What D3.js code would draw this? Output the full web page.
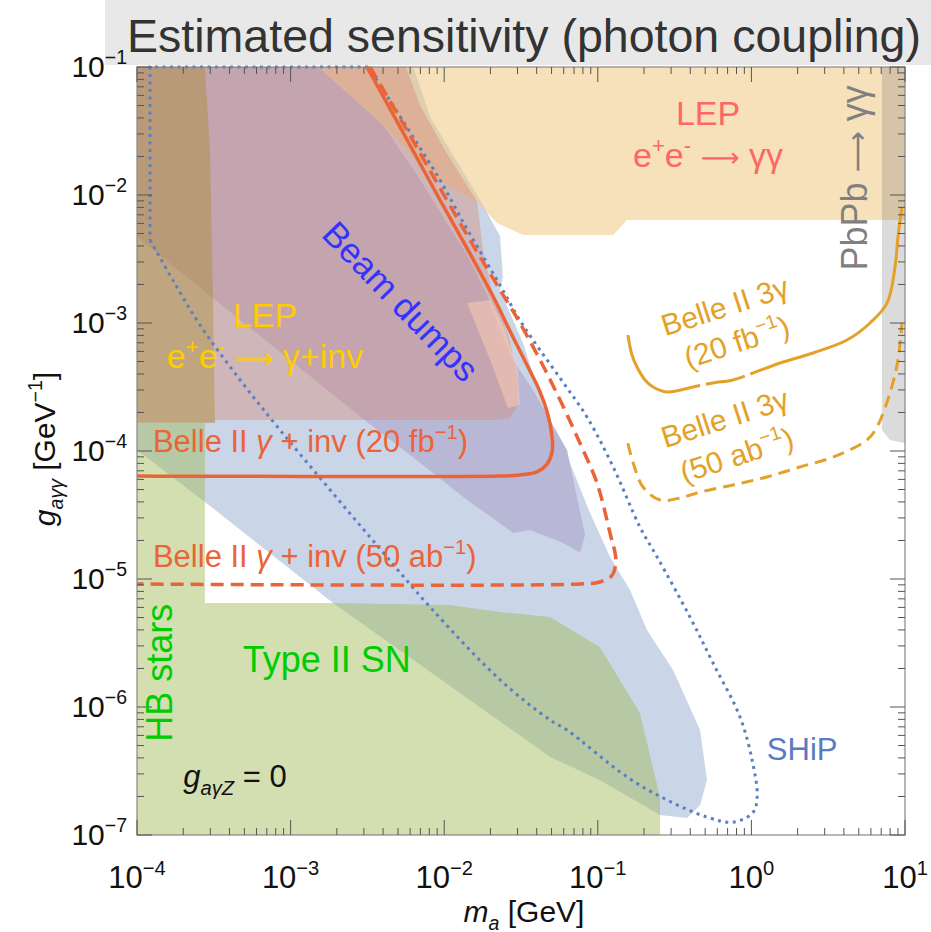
<!DOCTYPE html>
<html>
<head>
<meta charset="utf-8">
<script src="https://cdn.jsdelivr.net/npm/d3@7"></script>
<style>
  body { margin: 0; background: #fff; }
  svg { display: block; font-family: "Liberation Sans", Arial, sans-serif; }
</style>
</head>
<body>
<div id="app"></div>
<script>
'use strict';

// all points are [m_a in GeV, g_aγγ in GeV^-1]
const beamDumps = [[1e-4,0.1],[6.3e-3,0.1],[8.1e-3,4.07e-2],[1.09e-2,2.25e-2],[1.71e-2,9.14e-3],[2.31e-2,4.78e-3],
  [2.41e-2,2.29e-3],[2.31e-2,1.81e-3],[3.26e-2,6.98e-4],[4.67e-2,1.84e-4],[5.43e-2,1.22e-4],[6.59e-2,8.06e-5],
  [8.9e-2,3.28e-5],[0.12,1.49e-5],[0.162,8.2e-6],[0.209,4.0e-6],[0.309,1.95e-6],[0.463,6.61e-7],[0.514,2.69e-7],
  [0.463,1.71e-7],[0.381,1.36e-7],[0.254,1.43e-7],[0.103,2.69e-7],[4.89e-2,4.07e-7],[1.89e-3,6.49e-6],
  [2.77e-4,4.0e-5],[1e-4,1.02e-4]];
const beamDumpsInner = [[1e-4,0.1],[1.51e-3,0.1],[4.0e-3,3.52e-2],[6.95e-3,1.33e-2],[9.39e-3,7.36e-3],[1.41e-2,3.4e-3],
  [1.9e-2,1.66e-3],[2.31e-2,8.82e-4],[2.81e-2,5.14e-4],[3.79e-2,3.0e-4],[6.3e-2,1.02e-4],[8.26e-2,2.21e-5],
  [7.66e-2,1.6e-5],[5.93e-2,1.91e-5],[3.62e-2,2.41e-5],[2.81e-2,2.29e-5],[1.33e-2,4.37e-5],[7.27e-3,7.78e-5],
  [3.19e-3,1.66e-4],[1e-4,4.7e-3]];
const lepGammaGamma = [[1.51e-3,0.1],[10,0.1],[10,6.38e-3],[0.155,6.38e-3],[0.126,4.87e-3],[3.26e-2,4.87e-3],
  [2.21e-2,6.04e-3],[1.64e-2,8.81e-3],[8.09e-3,1.43e-2],[4.0e-3,3.52e-2]];
const lepGammaInv = [[2.77e-4,0.1],[5.64e-3,0.1],[6.95e-3,5.05e-2],[1.01e-2,2.25e-2],[1.64e-2,8.81e-3],
  [1.79e-2,3.71e-3],[2.05e-2,1.81e-3],[2.31e-2,1.26e-3],[2.68e-2,7.36e-4],[3.02e-2,3.59e-4],[3.02e-2,2.29e-4],
  [2.68e-2,1.81e-4],[2.14e-2,1.75e-4],[3.22e-4,1.75e-4],[3.13e-4,1.51e-3],[2.99e-4,2.25e-2]];
const extraPatch = [[1.41e-2,1.43e-3],[1.99e-2,1.51e-3],[2.49e-2,8.82e-4],[3.02e-2,4.3e-4],[3.11e-2,2.29e-4],
  [2.6e-2,2.17e-4],[1.99e-2,5.14e-4]];
const lowMassStrip = [[1e-4,0.1],[2.77e-4,0.1],[2.99e-4,2.25e-2],[3.13e-4,1.51e-3],[3.22e-4,1.66e-4],[1e-4,1.66e-4]];
const pbpb = [[7.08,0.1],[10,0.1],[10,1.15e-4],[7.98,1.22e-4],[7.08,1.46e-4]];
const hbStars = [[1e-4,1.66e-4],[2.77e-4,1.66e-4],[2.77e-4,1e-7],[1e-4,1e-7]];
const typeIISN = [[2.77e-4,6.49e-6],[1.89e-3,6.49e-6],[1.09e-2,6.26e-6],[2.31e-2,5.52e-6],[4.89e-2,5.05e-6],
  [0.103,2.94e-6],[0.188,8.97e-7],[0.254,1.98e-7],[0.254,1e-7],[2.77e-4,1e-7]];

const belle20fb = [[3.14e-3,0.1],[5.08e-3,3.52e-2],[9.39e-3,9.14e-3],[1.43e-2,3.71e-3],[2.14e-2,1.51e-3],
  [2.76e-2,8.06e-4],[3.46e-2,4.7e-4],[4.21e-2,2.89e-4],[4.74e-2,1.91e-4],[5.04e-2,1.29e-4],[5.04e-2,9.8e-5],
  [4.67e-2,7.9e-5],[4.02e-2,6.86e-5],[3.11e-2,6.5e-5],[2.31e-2,6.38e-5],[1e-4,6.38e-5]];
const belle50ab = [[3.29e-3,0.1],[5.47e-3,3.52e-2],[1.04e-2,9.14e-3],[1.61e-2,3.71e-3],[2.21e-2,1.98e-3],
  [3.11e-2,1e-3],[4.21e-2,5.14e-4],[5.68e-2,2.5e-4],[7.66e-2,1.15e-4],[9.88e-2,5.62e-5],[0.12,2.29e-5],
  [0.131,1.41e-5],[0.124,1.07e-5],[0.103,9.48e-6],[7.66e-2,9.14e-6],[1e-4,9.14e-6]];
const shipCorner = [[3.19e-3,0.1],[1.215e-4,0.1],[1.215e-4,4.45e-3]];
const ship = [[1.215e-4,4.45e-3],[1.71e-4,2.17e-3],[2.57e-4,9.65e-4],[4.69e-4,3.59e-4],
  [8.53e-4,1.46e-4],[1.81e-3,4.96e-5],[3.82e-3,1.72e-5],[8.09e-3,6.04e-6],[2.31e-2,1.63e-6],[4.89e-2,7.91e-7],
  [6.3e-2,6.61e-7],[0.155,2.84e-7],[0.282,1.88e-7],[0.514,1.38e-7],[0.759,1.26e-7],[1.02,1.49e-7],[1.09,1.98e-7],
  [1.02,3.65e-7],[0.843,8.35e-7],[0.562,2.21e-6],[0.398,5.05e-6],[0.243,1.49e-5],[0.188,2.55e-5],[0.126,7.5e-5],
  [8.51e-2,1.84e-4],[6.11e-2,3.28e-4],[4.21e-2,6.15e-4],[3.11e-2,1.05e-3],[2.38e-2,1.85e-3],[1.85e-2,3.1e-3],
  [1.36e-2,5.83e-3],[9.39e-3,1.31e-2],[5.98e-3,3.1e-2],[3.82e-3,7.23e-2],[3.19e-3,0.1]];
const belle3g20fb = [[0.157,8.06e-4],[0.167,5.62e-4],[0.18,4.53e-4],[0.203,3.59e-4],[0.229,3.16e-4],[0.282,2.89e-4],
  [0.417,3.16e-4],[0.562,3.4e-4],[0.759,3.59e-4],[1.02,4.06e-4],[1.54,4.87e-4],[2.52,5.83e-4],[4.19,7.36e-4],
  [5.92,1e-3],[7.64,1.43e-3],[8.61,2.74e-3],[9.0,4.7e-3],[9.55,8.06e-3]];
const belle3g20fbGaps = [0.46, 0.9]; // masses where the solid curve is briefly broken
const belle3g50ab = [[0.157,1.15e-4],[0.17,8.06e-5],[0.197,5.23e-5],[0.254,4.14e-5],[0.343,4.29e-5],[0.463,4.78e-5],
  [0.759,5.43e-5],[1.26,6.26e-5],[2.07,7.5e-5],[3.4,8.97e-5],[5.66,1.22e-4],[6.57,1.54e-4],[7.98,2.84e-4],
  [9.0,5.14e-4],[9.55,1e-3]];

const xDecades = [-4, -3, -2, -1, 0, 1];
const yDecades = [-7, -6, -5, -4, -3, -2, -1];

const width = 931;
const height = 932;
const marginTop = 67;
const marginRight = 26;
const marginBottom = 97;
const marginLeft = 137;

const x = d3.scaleLog().domain([1e-4, 10]).range([marginLeft, width - marginRight]);
const y = d3.scaleLog().domain([1e-7, 1e-1]).range([height - marginBottom, marginTop]);

const svg = d3.select("#app").append("svg")
  .attr("width", width).attr("height", height)
  .attr("viewBox", [0, 0, width, height]);

svg.append("clipPath").attr("id", "plot").append("rect")
  .attr("x", marginLeft).attr("y", marginTop)
  .attr("width", width - marginLeft - marginRight).attr("height", height - marginTop - marginBottom);

// title box
svg.append("rect").attr("x", 105).attr("y", 0).attr("width", 826).attr("height", 65).attr("fill", "#e8e8e8");
svg.append("text").attr("x", 127).attr("y", 52).attr("font-size", 46).attr("fill", "#333")
  .attr("textLength", 794).attr("lengthAdjust", "spacingAndGlyphs")
  .text("Estimated sensitivity (photon coupling)");

const poly = d3.line().x(d => x(d[0])).y(d => y(d[1])).curve(d3.curveLinearClosed);
const straight = d3.line().x(d => x(d[0])).y(d => y(d[1]));
const curve = d3.line().x(d => x(d[0])).y(d => y(d[1])).curve(d3.curveCatmullRom.alpha(0.5));

// shaded regions, painter's order
const regions = svg.append("g").attr("clip-path", "url(#plot)");
[
  [beamDumps, "#cad6e8"],
  [lepGammaGamma, "rgba(240,200,130,0.55)"],
  [pbpb, "rgba(110,110,110,0.25)"],
  [beamDumpsInner, "#b8b8d6"],
  [lepGammaInv, "rgba(215,135,115,0.4)"],
  [extraPatch, "rgba(255,208,180,0.5)"],
  [lowMassStrip, "rgba(185,136,62,0.61)"],
  [hbStars, "rgba(157,184,82,0.45)"],
  [typeIISN, "rgba(157,184,82,0.45)"]
].forEach(([d, c]) => regions.append("path").attr("d", poly(d)).attr("fill", c));

// curves
const shipG = svg.append("g").attr("fill", "none")
  .attr("stroke", "#5a7fc2").attr("stroke-width", 3).attr("stroke-dasharray", "3,4.5");
shipG.append("path").attr("d", straight(shipCorner));
shipG.append("path").attr("d", curve(ship));
svg.append("path").attr("d", curve(belle50ab)).attr("fill", "none")
  .attr("stroke", "#ea6438").attr("stroke-width", 3.5).attr("stroke-dasharray", "13,7");
svg.append("path").attr("d", curve(belle20fb)).attr("fill", "none")
  .attr("stroke", "#ea6438").attr("stroke-width", 3.5);

const gold20 = svg.append("path").attr("d", curve(belle3g20fb)).attr("fill", "none")
  .attr("stroke", "#e3a12a").attr("stroke-width", 3);
{
  // find path lengths where the curve passes the gap masses, then break it there
  const node = gold20.node();
  const total = node.getTotalLength();
  const cuts = belle3g20fbGaps.map(m => {
    let l = 0;
    while (l < total && node.getPointAtLength(l).x < x(m)) l += 0.5;
    return l;
  });
  const gap = 6;
  const dash = [cuts[0], gap, cuts[1] - cuts[0] - gap, gap, total];
  gold20.attr("stroke-dasharray", dash.join(","));
}
svg.append("path").attr("d", curve(belle3g50ab)).attr("fill", "none")
  .attr("stroke", "#e3a12a").attr("stroke-width", 3).attr("stroke-dasharray", "12,7");

// frame and inside ticks on all four sides
const x0 = marginLeft, x1 = width - marginRight, y0 = height - marginBottom, y1 = marginTop;
svg.append("rect").attr("x", x0).attr("y", y1).attr("width", x1 - x0).attr("height", y0 - y1)
  .attr("fill", "none").attr("stroke", "#888").attr("stroke-width", 1.2);

const ticks = svg.append("g").attr("stroke", "#555").attr("stroke-width", 1);
const logTicks = decs => {
  const out = [];
  decs.slice(0, -1).forEach(e => {
    out.push([10 ** e, 15]);
    for (let k = 2; k < 10; k++) out.push([k * 10 ** e, 7]);
  });
  out.push([10 ** decs[decs.length - 1], 15]);
  return out;
};
logTicks(xDecades).forEach(([v, len]) => {
  ticks.append("line").attr("x1", x(v)).attr("x2", x(v)).attr("y1", y0).attr("y2", y0 - len);
  ticks.append("line").attr("x1", x(v)).attr("x2", x(v)).attr("y1", y1).attr("y2", y1 + len);
});
logTicks(yDecades).forEach(([v, len]) => {
  ticks.append("line").attr("y1", y(v)).attr("y2", y(v)).attr("x1", x0).attr("x2", x0 + len);
  ticks.append("line").attr("y1", y(v)).attr("y2", y(v)).attr("x1", x1).attr("x2", x1 - len);
});

// text with super/subscripts: parts are strings or [text, "sup"|"sub"|"arrow"|"", italic]
function rich(text, fs, parts) {
  let shift = 0;
  for (const p of parts) {
    const [s, kind = "", it = false] = Array.isArray(p) ? p : [p];
    const off = kind === "sup" ? -0.42 * fs : kind === "sub" ? 0.25 * fs : 0;
    const ts = text.append("tspan").text(s);
    if (off !== shift) ts.attr("dy", off - shift);
    if (kind === "sup" || kind === "sub") ts.attr("font-size", fs * 0.65);
    if (kind === "arrow") ts.attr("font-family", "DejaVu Sans").attr("font-size", fs * 0.8);
    if (it) ts.attr("font-style", "italic");
    shift = off;
  }
  return text;
}
function label(px, py, fs, color, parts, anchor = "middle", rot = 0) {
  const t = svg.append("text")
    .attr("transform", `translate(${px},${py}) rotate(${rot})`)
    .attr("font-size", fs).attr("fill", color).attr("text-anchor", anchor);
  return rich(t, fs, parts);
}

// tick labels
yDecades.forEach(e => label(127, y(10 ** e) + 10, 30, "#111", ["10", ["\u2212" + (-e), "sup"]], "end"));
xDecades.forEach(e => label(x(10 ** e), 888, 31, "#111",
  ["10", [e < 0 ? "\u2212" + (-e) : String(e), "sup"]]));

// axis titles
label(524, 922, 30, "#111", [["m", "", true], ["a", "sub", true], " [GeV]"]);
label(55, 449, 30, "#111", [["g", "", true], ["a\u03b3\u03b3", "sub", true], " [GeV", ["\u22121", "sup"], "]"], "middle", -90);

// region labels
label(x(0.522), y(3.34e-2) - 3, 34, "#ff6666", ["LEP"]);
label(x(0.522), y(1.66e-2), 34, "#ff6666", ["e", ["+", "sup"], "e", ["-", "sup"], " ", ["\u27f6", "arrow"], " \u03b3\u03b3"]);
label(x(5.66), y(1.36e-2), 36, "#808080", ["PbPb ", ["\u27f6", "arrow"], " \u03b3\u03b3"], "middle", -90);
label(x(4.57e-3), y(1.57e-3) + 12, 35, "#3333ff", ["Beam dumps"], "middle", 46);
label(x(6.81e-4), y(8.82e-4) - 3, 34, "#ffcc00", ["LEP"]);
label(x(6.81e-4), y(4.45e-4), 34, "#ffcc00", ["e", ["+", "sup"], "e", ["-", "sup"], " ", ["\u27f6", "arrow"], " \u03b3+inv"]);
label(x(1.27e-4), y(9.8e-5), 31, "#ea6438", ["Belle II ", ["\u03b3", "", true], " + inv (20 fb", ["\u22121", "sup"], ")"], "start");
label(x(1.27e-4), y(1.24e-5), 31, "#ea6438", ["Belle II ", ["\u03b3", "", true], " + inv (50 ab", ["\u22121", "sup"], ")"], "start");
label(x(1.69e-4), y(1.85e-6), 36, "#00cc00", ["HB stars"], "middle", -90);
label(x(1.72e-3), y(1.88e-6), 36, "#00cc00", ["Type II SN"]);
label(x(2.0e-4), y(2.37e-7), 31, "#111", [["g", "", true], ["a\u03b3Z", "sub", true], " = 0"], "start");
label(x(1.26), y(3.86e-7), 31, "#5a7bbf", ["SHiP"], "start");
label(728, 316, 30, "#e3a12a", ["Belle II 3\u03b3"], "middle", -18);
label(740, 352, 30, "#e3a12a", ["(20 fb", ["\u22121", "sup"], ")"], "middle", -18);
label(728, 428, 30, "#e3a12a", ["Belle II 3\u03b3"], "middle", -18);
label(740, 465, 30, "#e3a12a", ["(50 ab", ["\u22121", "sup"], ")"], "middle", -18);
</script>
</body>
</html>
